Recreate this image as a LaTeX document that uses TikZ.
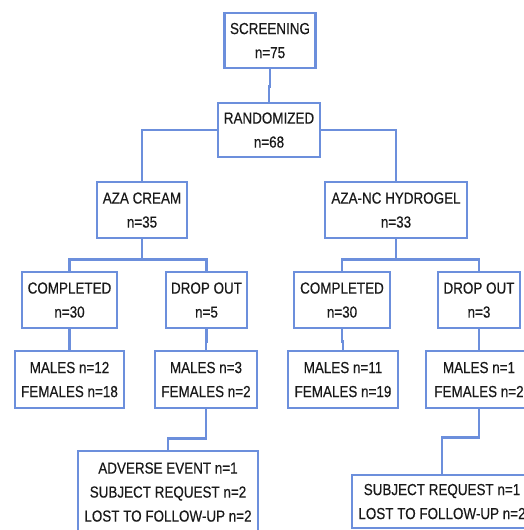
\documentclass[tikz,border=0pt]{standalone}
\usepackage{fontspec}
\setmainfont{Liberation Sans}[FakeStretch=0.84,FakeBold=0.4]
\definecolor{boxblue}{RGB}{108,143,220}
\definecolor{txtgray}{RGB}{25,25,25}
\begin{document}
\begin{tikzpicture}[x=1pt,y=-1pt,every node/.style={draw=boxblue,line width=2.6pt,fill=white,text=txtgray,align=center,inner sep=0pt,text depth=-10pt,font=\fontsize{16}{24}\selectfont}]
\useasboundingbox (0,0) rectangle (524,530);
\clip (0,0) rectangle (524,530);
\tikzset{link/.style={draw=boxblue,line width=2.4pt}}
% boxes, row by row
\node[minimum width=91pt,minimum height=55pt] (screen) at (270,40.5) {SCREENING\\n=75};
\node[minimum width=102pt,minimum height=54pt] (rand) at (269,130) {RANDOMIZED\\n=68};
\node[minimum width=90pt,minimum height=56pt] (cream) at (142,210) {AZA CREAM\\n=35};
\node[minimum width=142pt,minimum height=56pt] (hydro) at (396,210) {AZA-NC HYDROGEL\\n=33};
\node[minimum width=95pt,minimum height=56pt] (compA) at (69.5,300) {COMPLETED\\n=30};
\node[minimum width=81pt,minimum height=56pt] (dropA) at (206.5,300) {DROP OUT\\n=5};
\node[minimum width=96pt,minimum height=56pt] (compB) at (342,300) {COMPLETED\\n=30};
\node[minimum width=82pt,minimum height=56pt] (dropB) at (479,300) {DROP OUT\\n=3};
\node[minimum width=109pt,minimum height=57pt] (sexA) at (69.5,379.5) {MALES n=12\\FEMALES n=18};
\node[minimum width=102pt,minimum height=57pt] (sexAd) at (206,379.5) {MALES n=3\\FEMALES n=2};
\node[minimum width=110pt,minimum height=57pt] (sexB) at (343,379.5) {MALES n=11\\FEMALES n=19};
\node[minimum width=106pt,minimum height=57pt] (sexBd) at (479,379.5) {MALES n=1\\FEMALES n=2};
\node[minimum width=180pt,minimum height=82pt] (whyA) at (168,492) {ADVERSE EVENT n=1\\SUBJECT REQUEST n=2\\LOST TO FOLLOW-UP n=2};
\node[minimum width=180pt,minimum height=53pt] (whyB) at (442,501.5) {SUBJECT REQUEST n=1\\LOST TO FOLLOW-UP n=2};
% elbow connectors
\foreach \u/\v/\d in {screen/rand/17,cream/compA/20,cream/dropA/20,hydro/compB/20,hydro/dropB/20,compA/sexA/12,dropA/sexAd/12,compB/sexB/12,dropB/sexBd/12,sexAd/whyA/29,sexBd/whyB/28}
  \path[link] (\u.south) -- ++(0,\d) -| (\v.north);
\path[link] (rand.west) -| (cream.north);
\path[link] (rand.east) -| (hydro.north);
\end{tikzpicture}
\end{document}
